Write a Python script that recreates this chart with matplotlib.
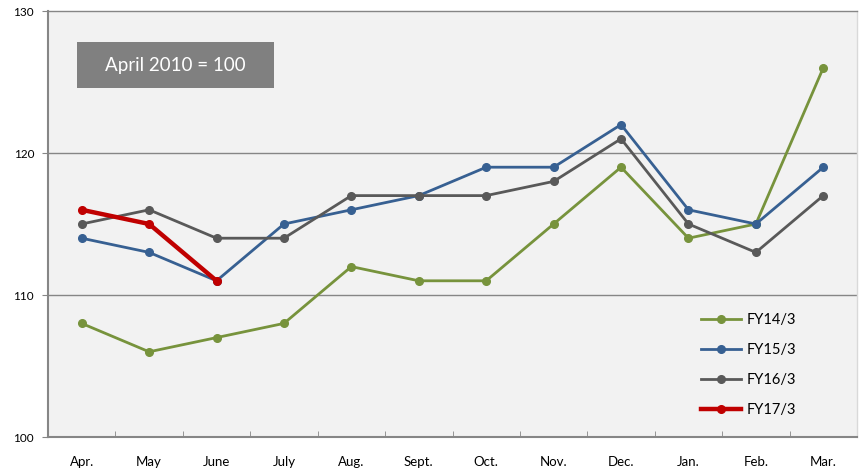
import matplotlib
matplotlib.use("Agg")
import matplotlib.pyplot as plt
from matplotlib.ticker import FixedLocator, NullFormatter
from matplotlib.patches import Rectangle

months = ["Apr.", "May", "June", "July", "Aug.", "Sept.", "Oct.", "Nov.", "Dec.", "Jan.", "Feb.", "Mar."]
fy14 = [108, 106, 107, 108, 112, 111, 111, 115, 119, 114, 115, 126]
fy15 = [114, 113, 111, 115, 116, 117, 119, 119, 122, 116, 115, 119]
fy16 = [115, 116, 114, 114, 117, 117, 117, 118, 121, 115, 113, 117]
fy17 = [116, 115, 111]
series_names = ["FY14/3", "FY15/3", "FY16/3", "FY17/3"]

plt.rcParams['font.family'] = ['Lato', 'DejaVu Sans']

W, H = 863, 471
fig = plt.figure(figsize=(W/100, H/100), dpi=100)
ax = fig.add_axes([48/W, 1-437/H, (857-48)/W, (437-11)/H])
ax.set_facecolor("#F2F2F2")

x = list(range(len(months)))
ax.plot(x, fy14, color="#77933C", lw=2.0, marker="o", ms=5.5, label=series_names[0], zorder=3)
ax.plot(x, fy15, color="#376092", lw=2.0, marker="o", ms=5.5, label=series_names[1], zorder=3)
ax.plot(x, fy16, color="#595959", lw=2.0, marker="o", ms=5.5, label=series_names[2], zorder=3)
ax.plot(x[:len(fy17)], fy17, color="#C00000", lw=3.2, marker="o", ms=5.5, label=series_names[3], zorder=4)

ax.set_xlim(-0.5, len(months) - 0.5)
ax.set_ylim(100, 130)
ax.set_yticks([100, 110, 120, 130])
ax.set_yticklabels(["100", "110", "120", "130"], fontsize=8.5)
ax.tick_params(axis='y', direction='out', length=4, color="#868686", pad=6)
for yv in [110, 120]:
    ax.axhline(yv, color="#868686", lw=1.0, zorder=1)

ax.set_xticks(x)
ax.set_xticklabels(months, fontsize=9.5)
ax.tick_params(axis='x', which='major', length=0, pad=14)
ax.xaxis.set_minor_locator(FixedLocator([i + 0.5 for i in range(len(months) - 1)]))
ax.xaxis.set_minor_formatter(NullFormatter())
ax.tick_params(axis='x', which='minor', direction='in', length=4, color="#868686")

for s in ["left", "bottom", "top"]:
    ax.spines[s].set_color("#868686")
    ax.spines[s].set_linewidth(1.5 if s != "top" else 1.0)
ax.spines["right"].set_color("#D9D9D9")
ax.spines["right"].set_linewidth(1.0)

fig.patches.append(Rectangle((77/W, 1-88/H), (274-77)/W, (88-42)/H, transform=fig.transFigure,
                             fc="#808080", ec="none", zorder=5))
fig.text((77+274)/2/W, 1-65/H, "April 2010 = 100", ha="center", va="center",
         color="white", fontsize=13.5, zorder=6)

leg = ax.legend(loc="upper left", bbox_to_anchor=(688/W, 1-300/H), bbox_transform=fig.transFigure,
                frameon=False, fontsize=10.5, handlelength=2.7, labelspacing=1.1, handletextpad=0.45)

fig.savefig("out.png", dpi=100)
